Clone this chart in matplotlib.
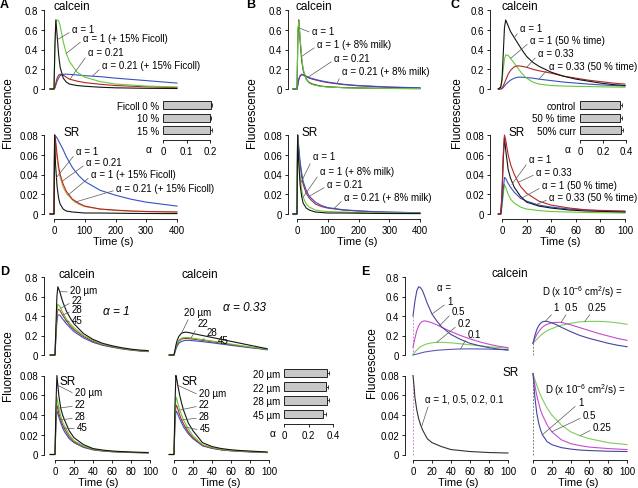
import matplotlib
matplotlib.use('Agg')
import matplotlib.pyplot as plt

plt.rcParams['font.family'] = ['Liberation Sans', 'DejaVu Sans']
plt.rcParams['mathtext.fontset'] = 'custom'
plt.rcParams['mathtext.rm'] = 'Liberation Sans'
plt.rcParams['mathtext.it'] = 'Liberation Sans:italic'

# ---- data ----
# A: Ficoll
tA = [-13, 0, 3, 6, 10, 15, 20, 30, 40, 50, 75, 100, 150, 200, 300, 400]
A_cal_black = [0, 0, 0.45, 0.7, 0.55, 0.35, 0.22, 0.11, 0.07, 0.05, 0.035, 0.028, 0.018, 0.012, 0.007, 0.005]
A_cal_green = [0, 0, 0.4, 0.68, 0.7, 0.69, 0.64, 0.48, 0.36, 0.28, 0.17, 0.12, 0.075, 0.05, 0.03, 0.02]
A_cal_red = [0, 0, 0.02, 0.06, 0.11, 0.14, 0.15, 0.14, 0.12, 0.1, 0.08, 0.065, 0.048, 0.035, 0.022, 0.015]
A_cal_blue = [0, 0, 0.01, 0.04, 0.08, 0.11, 0.135, 0.15, 0.15, 0.148, 0.142, 0.135, 0.125, 0.11, 0.085, 0.06]

tA_sr = [-13, 0, 2, 5, 10, 15, 20, 30, 40, 60, 80, 100, 150, 200, 250, 300, 400]
A_sr_black = [0, 0, 0.08, 0.05, 0.028, 0.016, 0.01, 0.005, 0.003, 0.002, 0.0015, 0.001, 0.001, 0.0008, 0.0006, 0.0005, 0.0004]
A_sr_red = [0, 0, 0.08, 0.075, 0.06, 0.048, 0.04, 0.03, 0.023, 0.015, 0.011, 0.008, 0.005, 0.004, 0.003, 0.0025, 0.002]
A_sr_green = [0, 0, 0.08, 0.072, 0.056, 0.045, 0.037, 0.027, 0.021, 0.014, 0.01, 0.0075, 0.005, 0.0035, 0.003, 0.0025, 0.002]
A_sr_blue = [0, 0, 0.08, 0.079, 0.077, 0.074, 0.071, 0.065, 0.058, 0.047, 0.039, 0.033, 0.024, 0.019, 0.015, 0.012, 0.008]

ficoll_labels = ['Ficoll 0 %', '10 %', '15 %']
ficoll_alpha = [0.203, 0.198, 0.201]
ficoll_err = [0.007, 0.006, 0.006]

# B: milk
B_cal_black = [0, 0, 0.55, 0.7, 0.5, 0.3, 0.19, 0.1, 0.065, 0.05, 0.03, 0.022, 0.014, 0.01, 0.006, 0.004]
B_cal_green = [0, 0, 0.6, 0.69, 0.52, 0.33, 0.2, 0.1, 0.06, 0.045, 0.028, 0.02, 0.013, 0.009, 0.005, 0.004]
B_cal_red = [0, 0, 0.05, 0.1, 0.13, 0.145, 0.14, 0.125, 0.11, 0.1, 0.08, 0.065, 0.045, 0.032, 0.018, 0.01]
B_cal_blue = [0, 0, 0.05, 0.1, 0.135, 0.15, 0.145, 0.13, 0.115, 0.105, 0.085, 0.07, 0.048, 0.035, 0.02, 0.012]

B_sr_black = [0, 0, 0.08, 0.055, 0.03, 0.018, 0.011, 0.006, 0.004, 0.002, 0.0015, 0.001, 0.001, 0.0008, 0.0006, 0.0005, 0.0004]
B_sr_green = [0, 0, 0.08, 0.06, 0.038, 0.025, 0.017, 0.01, 0.007, 0.004, 0.003, 0.0025, 0.002, 0.0015, 0.001, 0.001, 0.0008]
B_sr_red = [0, 0, 0.08, 0.068, 0.05, 0.038, 0.03, 0.021, 0.016, 0.01, 0.0075, 0.006, 0.004, 0.003, 0.0022, 0.0018, 0.0012]
B_sr_blue = [0, 0, 0.08, 0.07, 0.053, 0.042, 0.033, 0.024, 0.018, 0.012, 0.0085, 0.0065, 0.0043, 0.0032, 0.0024, 0.0019, 0.0013]

# C: time / current
tC = [-3, -1, 0, 1, 2, 3, 5, 7, 10, 13, 16, 20, 25, 30, 40, 50, 60, 70, 80, 90, 100]
C_cal_black = [0, 0.02, 0.1, 0.35, 0.62, 0.7, 0.64, 0.58, 0.52, 0.46, 0.4, 0.33, 0.27, 0.23, 0.17, 0.13, 0.1, 0.08, 0.06, 0.045, 0.035]
C_cal_green = [0, 0.02, 0.08, 0.2, 0.3, 0.345, 0.34, 0.31, 0.26, 0.21, 0.16, 0.11, 0.07, 0.05, 0.035, 0.03, 0.027, 0.025, 0.022, 0.02, 0.018]
C_cal_red = [0, 0, 0.01, 0.03, 0.06, 0.09, 0.15, 0.19, 0.225, 0.235, 0.23, 0.22, 0.2, 0.185, 0.16, 0.13, 0.11, 0.09, 0.075, 0.06, 0.05]
C_cal_blue = [0, 0, 0.005, 0.015, 0.03, 0.045, 0.07, 0.09, 0.11, 0.12, 0.12, 0.115, 0.11, 0.1, 0.085, 0.07, 0.06, 0.05, 0.042, 0.035, 0.03]

tC_sr = [-3, -1, 0, 1, 2, 3, 5, 7, 10, 15, 20, 30, 40, 55, 70, 85, 100]
C_sr_red = [0, 0, 0.02, 0.06, 0.08, 0.075, 0.06, 0.05, 0.04, 0.028, 0.021, 0.013, 0.009, 0.006, 0.004, 0.0035, 0.003]
C_sr_black = [0, 0, 0.02, 0.055, 0.078, 0.065, 0.045, 0.036, 0.027, 0.018, 0.012, 0.008, 0.006, 0.004, 0.003, 0.0025, 0.002]
C_sr_blue = [0, 0, 0.01, 0.025, 0.037, 0.036, 0.031, 0.027, 0.022, 0.016, 0.013, 0.009, 0.007, 0.005, 0.004, 0.003, 0.0025]
C_sr_green = [0, 0, 0.008, 0.02, 0.03, 0.027, 0.02, 0.015, 0.011, 0.007, 0.005, 0.0035, 0.0025, 0.002, 0.0015, 0.0012, 0.001]

cond_labels = ['control', '50 % time', '50% curr']
cond_alpha = [0.35, 0.35, 0.355]
cond_err = [0.015, 0.015, 0.02]

# D: pipette distance
tD = [-5, 0, 1, 2, 3, 5, 8, 12, 16, 20, 30, 40, 50, 60, 70, 80, 90, 98]
D1_cal_black = [0, 0, 0.3, 0.6, 0.7, 0.65, 0.55, 0.45, 0.38, 0.32, 0.22, 0.16, 0.12, 0.095, 0.075, 0.06, 0.05, 0.045]
D1_cal_green = [0, 0, 0.25, 0.45, 0.52, 0.5, 0.44, 0.37, 0.32, 0.28, 0.2, 0.15, 0.11, 0.09, 0.07, 0.055, 0.045, 0.04]
D1_cal_red = [0, 0, 0.22, 0.4, 0.47, 0.46, 0.41, 0.35, 0.3, 0.26, 0.19, 0.14, 0.105, 0.085, 0.067, 0.053, 0.043, 0.038]
D1_cal_blue = [0, 0, 0.18, 0.34, 0.41, 0.41, 0.37, 0.32, 0.28, 0.24, 0.175, 0.13, 0.1, 0.08, 0.063, 0.05, 0.04, 0.035]
D2_cal_black = [0, 0, 0.05, 0.1, 0.14, 0.19, 0.225, 0.235, 0.23, 0.22, 0.2, 0.18, 0.16, 0.14, 0.12, 0.1, 0.08, 0.065]
D2_cal_green = [0, 0, 0.04, 0.08, 0.11, 0.15, 0.175, 0.18, 0.178, 0.172, 0.158, 0.143, 0.128, 0.112, 0.097, 0.083, 0.07, 0.058]
D2_cal_red = [0, 0, 0.035, 0.07, 0.1, 0.14, 0.165, 0.17, 0.168, 0.163, 0.15, 0.136, 0.122, 0.107, 0.093, 0.08, 0.068, 0.056]
D2_cal_blue = [0, 0, 0.03, 0.06, 0.085, 0.12, 0.14, 0.15, 0.15, 0.147, 0.137, 0.125, 0.112, 0.099, 0.087, 0.075, 0.064, 0.053]

tD_sr = [-5, 0, 1, 2, 3, 4, 6, 8, 10, 15, 20, 30, 40, 50, 60, 70, 80, 98]
D1_sr_black = [0, 0, 0.05, 0.08, 0.07, 0.06, 0.047, 0.04, 0.035, 0.024, 0.017, 0.01, 0.006, 0.0045, 0.0035, 0.003, 0.0025, 0.002]
D1_sr_green = [0, 0, 0.04, 0.058, 0.053, 0.047, 0.039, 0.033, 0.029, 0.02, 0.014, 0.0085, 0.0055, 0.004, 0.0032, 0.0027, 0.0023, 0.0018]
D1_sr_red = [0, 0, 0.035, 0.05, 0.047, 0.042, 0.035, 0.03, 0.026, 0.018, 0.013, 0.008, 0.005, 0.0038, 0.003, 0.0025, 0.0021, 0.0017]
D1_sr_blue = [0, 0, 0.03, 0.044, 0.042, 0.038, 0.032, 0.027, 0.023, 0.016, 0.012, 0.0072, 0.0047, 0.0035, 0.0028, 0.0023, 0.002, 0.0016]
D2_sr_black = [0, 0, 0.05, 0.08, 0.076, 0.07, 0.06, 0.052, 0.045, 0.032, 0.024, 0.012, 0.008, 0.006, 0.0048, 0.004, 0.0035, 0.0025]
D2_sr_green = [0, 0, 0.04, 0.058, 0.056, 0.052, 0.045, 0.04, 0.035, 0.026, 0.019, 0.01, 0.007, 0.0052, 0.0042, 0.0035, 0.003, 0.0022]
D2_sr_red = [0, 0, 0.035, 0.05, 0.049, 0.046, 0.04, 0.035, 0.031, 0.023, 0.017, 0.0092, 0.0065, 0.0048, 0.0039, 0.0033, 0.0028, 0.002]
D2_sr_blue = [0, 0, 0.03, 0.044, 0.043, 0.041, 0.036, 0.032, 0.028, 0.021, 0.016, 0.0088, 0.0062, 0.0046, 0.0037, 0.0031, 0.0026, 0.002]

diam_labels = ['20 µm', '22 µm', '28 µm', '45 µm']
diam_alpha = [0.35, 0.345, 0.35, 0.32]
diam_err = [0.015, 0.013, 0.015, 0.025]

# E: model curves
tE = [0, 2, 4, 6, 8, 10, 12, 15, 20, 25, 30, 40, 50, 60, 70, 80, 90, 100]
E1_cal_a1 = [0.4, 0.55, 0.66, 0.7, 0.69, 0.66, 0.61, 0.53, 0.42, 0.35, 0.29, 0.21, 0.16, 0.12, 0.095, 0.075, 0.06, 0.05]
E1_cal_a05 = [0.08, 0.17, 0.25, 0.3, 0.33, 0.345, 0.35, 0.345, 0.33, 0.31, 0.285, 0.24, 0.2, 0.165, 0.135, 0.11, 0.09, 0.075]
E1_cal_a02 = [0.01, 0.03, 0.05, 0.07, 0.085, 0.095, 0.105, 0.115, 0.125, 0.13, 0.13, 0.125, 0.115, 0.105, 0.095, 0.085, 0.077, 0.07]
E1_cal_a01 = [0.0, 0.005, 0.01, 0.015, 0.02, 0.025, 0.03, 0.035, 0.042, 0.048, 0.052, 0.058, 0.062, 0.063, 0.062, 0.06, 0.057, 0.055]
E2_cal_d1 = [0.12, 0.2, 0.26, 0.3, 0.325, 0.34, 0.345, 0.345, 0.33, 0.31, 0.285, 0.24, 0.2, 0.17, 0.145, 0.12, 0.1, 0.085]
E2_cal_d05 = [0.12, 0.17, 0.21, 0.24, 0.265, 0.285, 0.3, 0.315, 0.33, 0.335, 0.335, 0.31, 0.28, 0.25, 0.22, 0.195, 0.17, 0.15]
E2_cal_d025 = [0.12, 0.14, 0.16, 0.18, 0.2, 0.215, 0.23, 0.25, 0.27, 0.29, 0.305, 0.325, 0.34, 0.345, 0.345, 0.34, 0.33, 0.315]

tE_sr = [0, 1, 2, 4, 6, 8, 10, 15, 20, 30, 40, 50, 60, 80, 100]
E1_sr = [0.08, 0.07, 0.058, 0.045, 0.036, 0.03, 0.025, 0.016, 0.012, 0.008, 0.005, 0.004, 0.003, 0.002, 0.0015]
E2_sr_d1 = [0.082, 0.07, 0.058, 0.042, 0.032, 0.025, 0.02, 0.013, 0.01, 0.007, 0.0055, 0.0045, 0.004, 0.0033, 0.003]
E2_sr_d05 = [0.082, 0.076, 0.07, 0.06, 0.052, 0.045, 0.04, 0.03, 0.023, 0.015, 0.011, 0.009, 0.0075, 0.006, 0.005]
E2_sr_d025 = [0.082, 0.079, 0.076, 0.07, 0.065, 0.06, 0.056, 0.047, 0.04, 0.03, 0.023, 0.019, 0.016, 0.012, 0.01]

cal_ticks = [0, 0.2, 0.4, 0.6, 0.8]
cal_labels = ['0', '0.2', '0.4', '0.6', '0.8']
sr_ticks = [0, 0.02, 0.04, 0.06, 0.08]
sr_labels = ['0', '0.02', '0.04', '0.06', '0.08']
t400 = [0, 100, 200, 300, 400]
t100 = [0, 20, 40, 60, 80, 100]

black = '#151515'
green = '#66c93a'
red = '#b3262a'
blue = '#3552c4'
e_blue = '#45459f'
e_mag = '#c64ccc'
e_green = '#7fcc5e'
e_purple = '#5a5ab8'
lw = 0.8

W, H = 638, 489
fig = plt.figure(figsize=(W / 100, H / 100), dpi=100)


def add_ax(left, top, right, bottom, xpx, xval, ypx, yval):
    # axes box in pixels, plus two pixel/value pairs per axis
    ax = fig.add_axes([left / W, 1 - bottom / H, (right - left) / W, (bottom - top) / H])
    sx = (xval[1] - xval[0]) / (xpx[1] - xpx[0])
    ax.set_xlim(xval[0] + (left - xpx[0]) * sx, xval[0] + (right - xpx[0]) * sx)
    sy = (yval[1] - yval[0]) / (ypx[1] - ypx[0])
    ax.set_ylim(yval[0] + (bottom - ypx[0]) * sy, yval[0] + (top - ypx[0]) * sy)
    ax.patch.set_alpha(0)
    return ax


def axis_style(ax, yticks=None, ylabels=None, xticks=None):
    for s in ['top', 'right']:
        ax.spines[s].set_visible(False)
    if yticks is None:
        ax.spines['left'].set_visible(False)
        ax.set_yticks([])
    else:
        ax.set_yticks(yticks, ylabels)
        ax.spines['left'].set_bounds(yticks[0], yticks[-1])
    if xticks is None:
        ax.spines['bottom'].set_visible(False)
        ax.set_xticks([])
    else:
        ax.set_xticks(xticks, [str(x) for x in xticks])
        ax.spines['bottom'].set_bounds(xticks[0], xticks[-1])
    ax.tick_params(length=2.5, width=0.6, labelsize=7, pad=1.5, direction='out')
    for s in ax.spines.values():
        s.set_linewidth(0.6)


def note(ax, s, tx, ty, xy, rel=(0, 0.3), size=7):
    ax.annotate(s, xy=xy, xycoords='data', xytext=(tx, H - ty), textcoords='figure pixels',
                fontsize=size, ha='left', va='center',
                arrowprops=dict(arrowstyle='-', color='0.35', lw=0.5, shrinkA=0, shrinkB=0, relpos=rel))


def ftext(x, y, s, **kw):
    fig.text(x / W, 1 - y / H, s, **kw)


def inset(ax, labels, vals, errs, xticks, xlabels):
    y = list(range(len(vals)))
    ax.barh(y, vals, height=0.64, color='#c8c8c8', edgecolor='#222222', linewidth=0.7,
            xerr=[[0] * len(errs), errs], error_kw=dict(ecolor='#222222', elinewidth=0.6, capsize=1.6, capthick=0.6))
    for s in ['top', 'right', 'left']:
        ax.spines[s].set_visible(False)
    ax.spines['bottom'].set_linewidth(0.6)
    ax.spines['bottom'].set_bounds(xticks[0], xticks[-1])
    ax.set_xticks(xticks, xlabels)
    ax.set_yticks(y, labels)
    ax.tick_params(axis='x', length=2.5, width=0.6, labelsize=7, pad=1.5)
    ax.tick_params(axis='y', length=0, labelsize=7, pad=3)


# ---- A ----
ax = add_ax(44, 6, 182, 92, (54, 177), (0, 400), (90, 11), (0, 0.8))
axis_style(ax, cal_ticks, cal_labels)
for v, c in [(A_cal_blue, blue), (A_cal_red, red), (A_cal_green, green), (A_cal_black, black)]:
    ax.plot(tA, v, color=c, lw=lw)
note(ax, 'α = 1', 72, 30, (11, 0.5))
note(ax, 'α = 1 (+ 15% Ficoll)', 83, 39, (40, 0.36))
note(ax, 'α = 0.21', 88, 53, (52, 0.1))
note(ax, 'α = 0.21 (+ 15% Ficoll)', 102, 66, (125, 0.13))

ax = add_ax(44, 130, 182, 220, (54, 177), (0, 400), (215, 136), (0, 0.08))
axis_style(ax, sr_ticks, sr_labels, t400)
for v, c in [(A_sr_blue, blue), (A_sr_green, '#c9b23a'), (A_sr_red, red), (A_sr_black, black)]:
    ax.plot(tA_sr, v, color=c, lw=lw)
ax.set_xlabel('Time (s)', fontsize=8, labelpad=1)
note(ax, 'α = 1', 76, 152, (8, 0.037))
note(ax, 'α = 0.21', 86, 163, (26, 0.033))
note(ax, 'α = 1 (+ 15% Ficoll)', 91, 175, (45, 0.019))
note(ax, 'α = 0.21 (+ 15% Ficoll)', 116, 189, (68, 0.012))

ax = add_ax(163, 100, 214, 141, (163, 210), (0, 0.2), (106, 131), (0, 2))
inset(ax, ficoll_labels, ficoll_alpha, ficoll_err, [0, 0.1, 0.2], ['0', '0.1', '0.2'])
ftext(149, 150, 'α', fontsize=7.5, ha='center', va='center')

# ---- B ----
ax = add_ax(288, 6, 426, 92, (297, 420), (0, 400), (90, 11), (0, 0.8))
axis_style(ax, cal_ticks, cal_labels)
for v, c in [(B_cal_red, red), (B_cal_blue, blue), (B_cal_black, black), (B_cal_green, green)]:
    ax.plot(tA, v, color=c, lw=lw)
note(ax, 'α = 1', 312, 32, (5, 0.62))
note(ax, 'α = 1 (+ 8% milk)', 317, 45, (15, 0.33))
note(ax, 'α = 0.21', 334, 59, (36, 0.12))
note(ax, 'α = 0.21 (+ 8% milk)', 342, 72, (130, 0.055))

ax = add_ax(288, 130, 426, 220, (297, 420), (0, 400), (215, 136), (0, 0.08))
axis_style(ax, sr_ticks, sr_labels, t400)
for v, c in [(B_sr_red, red), (B_sr_blue, blue), (B_sr_green, green), (B_sr_black, black)]:
    ax.plot(tA_sr, v, color=c, lw=lw)
ax.set_xlabel('Time (s)', fontsize=8, labelpad=1)
note(ax, 'α = 1', 313, 157, (10, 0.03))
note(ax, 'α = 1 (+ 8% milk)', 320, 172, (20, 0.017))
note(ax, 'α = 0.21', 327, 185, (40, 0.018))
note(ax, 'α = 0.21 (+ 8% milk)', 344, 198, (120, 0.0055))

# ---- C ----
ax = add_ax(490, 6, 630, 92, (502, 625), (0, 100), (90, 11), (0, 0.8))
axis_style(ax, cal_ticks, cal_labels)
for v, c in [(C_cal_blue, blue), (C_cal_green, green), (C_cal_red, red), (C_cal_black, black)]:
    ax.plot(tC, v, color=c, lw=lw)
note(ax, 'α = 1', 520, 29, (10, 0.52))
note(ax, 'α = 1 (50 % time)', 530, 41, (7, 0.31))
note(ax, 'α = 0.33', 538, 54, (20, 0.22))
note(ax, 'α = 0.33 (50 % time)', 549, 67, (30, 0.1))

ax = add_ax(490, 130, 630, 220, (502, 625), (0, 100), (215, 136), (0, 0.08))
axis_style(ax, sr_ticks, sr_labels, t100)
for v, c in [(C_sr_green, green), (C_sr_blue, blue), (C_sr_black, black), (C_sr_red, red)]:
    ax.plot(tC_sr, v, color=c, lw=lw)
ax.set_xlabel('Time (s)', fontsize=8, labelpad=1)
note(ax, 'α = 1', 529, 160, (8, 0.03))
note(ax, 'α = 0.33', 536, 173, (13, 0.032))
note(ax, 'α = 1 (50 % time)', 542, 186, (16, 0.016))
note(ax, 'α = 0.33 (50 % time)', 549, 198, (28, 0.0095))

ax = add_ax(580, 100, 630, 141, (580, 626), (0, 0.4), (106, 131), (0, 2))
inset(ax, cond_labels, cond_alpha, cond_err, [0, 0.2, 0.4], ['0', '0.2', '0.4'])
ftext(568, 150, 'α', fontsize=7.5, ha='center', va='center')

# ---- D ----
d_cols = [black, green, red, blue]
ax = add_ax(44, 270, 152, 358, (55, 150), (0, 100), (356, 278), (0, 0.8))
axis_style(ax, cal_ticks, cal_labels)
for v, c in zip([D1_cal_black, D1_cal_green, D1_cal_red, D1_cal_blue][::-1], d_cols[::-1]):
    ax.plot(tD, v, color=c, lw=lw)
note(ax, '20 µm', 70, 291, (5, 0.65))
note(ax, '22', 72, 301, (6, 0.48))
note(ax, '28', 72, 310, (8, 0.41))
note(ax, '45', 72, 321, (10, 0.35))
ftext(103, 312, 'α = 1', fontsize=8.5, style='italic', ha='left', va='center')

ax = add_ax(44, 372, 152, 461, (55, 150), (0, 100), (455.5, 376.5), (0, 0.08))
axis_style(ax, sr_ticks, sr_labels, t100)
for v, c in zip([D1_sr_black, D1_sr_green, D1_sr_red, D1_sr_blue][::-1], d_cols[::-1]):
    ax.plot(tD_sr, v, color=c, lw=lw)
ax.set_xlabel('Time (s)', fontsize=8, labelpad=1)
note(ax, '20 µm', 75, 393, (3, 0.07))
note(ax, '22', 75, 405, (4, 0.047))
note(ax, '28', 75, 417, (6, 0.035))
note(ax, '45', 77, 428, (8, 0.027))

ax = add_ax(168, 270, 272, 358, (174, 269), (0, 100), (356, 278), (0, 0.8))
axis_style(ax)
for v, c in zip([D2_cal_black, D2_cal_green, D2_cal_red, D2_cal_blue][::-1], d_cols[::-1]):
    ax.plot(tD, v, color=c, lw=lw)
note(ax, '20 µm', 184, 313, (8, 0.225), rel=(0.2, 0))
note(ax, '22', 198, 324, (18, 0.175), rel=(0, 0.2))
note(ax, '28', 207, 333, (30, 0.15), rel=(0, 0.2))
note(ax, '45', 218, 341, (45, 0.12), rel=(0, 0.3))
ftext(223, 308, 'α = 0.33', fontsize=8.5, style='italic', ha='left', va='center')

ax = add_ax(168, 372, 272, 461, (174, 269), (0, 100), (455.5, 376.5), (0, 0.08))
axis_style(ax, None, None, t100)
for v, c in zip([D2_sr_black, D2_sr_green, D2_sr_red, D2_sr_blue][::-1], d_cols[::-1]):
    ax.plot(tD_sr, v, color=c, lw=lw)
ax.set_xlabel('Time (s)', fontsize=8, labelpad=1)
note(ax, '20 µm', 199, 394, (4, 0.07))
note(ax, '22', 199, 405, (6, 0.045))
note(ax, '28', 199, 417, (8, 0.035))
note(ax, '45', 200, 429, (10, 0.028))

ax = add_ax(284, 366, 336, 425, (284, 333), (0, 0.4), (374, 415), (0, 3))
inset(ax, diam_labels, diam_alpha, diam_err, [0, 0.2, 0.4], ['0', '0.2', '0.4'])
ftext(273, 434, 'α', fontsize=7.5, ha='center', va='center')

# ---- E ----
ax = add_ax(405, 270, 512, 358, (413, 508), (0, 100), (356, 278), (0, 0.8))
axis_style(ax, cal_ticks, cal_labels)
ax.plot([0, 0], [0, E1_cal_a1[0]], color='#cf8fd6', lw=0.7, ls=(0, (2, 1.5)))
for v, c in [(E1_cal_a01, e_purple), (E1_cal_a02, e_green), (E1_cal_a05, e_mag), (E1_cal_a1, e_blue)]:
    ax.plot(tE, v, color=c, lw=lw)
ftext(437, 288, 'α =', fontsize=7, ha='left', va='center')
note(ax, '1', 447, 302, (20, 0.42))
note(ax, '0.5', 452, 312, (28, 0.3))
note(ax, '0.2', 458, 324, (25, 0.13))
note(ax, '0.1', 468, 335, (50, 0.062))

ax = add_ax(405, 372, 512, 461, (413, 508), (0, 100), (455.5, 376.5), (0, 0.08))
axis_style(ax, sr_ticks, sr_labels, t100)
ax.plot([0, 0], [0, E1_sr[0]], color='#cf8fd6', lw=0.7, ls=(0, (2, 1.5)))
ax.plot(tE_sr, E1_sr, color='#333333', lw=lw)
ax.set_xlabel('Time (s)', fontsize=8, labelpad=1)
note(ax, 'α = 1, 0.5, 0.2, 0.1', 425, 400, (9, 0.028), rel=(0.05, 0))

ax = add_ax(527, 270, 630, 358, (533, 627), (0, 100), (356, 278), (0, 0.8))
axis_style(ax)
ax.plot([0, 0], [0, E2_cal_d1[0]], color='0.5', lw=0.7, ls=(0, (2, 1.5)))
for v, c in [(E2_cal_d025, e_green), (E2_cal_d05, e_mag), (E2_cal_d1, e_blue)]:
    ax.plot(tE, v, color=c, lw=lw)
ftext(542, 292, 'D (x 10$^{-6}$ cm$^{2}$/s) =', fontsize=7, ha='left', va='center')
note(ax, '1', 553, 308, (13, 0.345), rel=(0.2, 0))
note(ax, '0.5', 565, 308, (30, 0.335), rel=(0.2, 0))
note(ax, '0.25', 588, 308, (55, 0.343), rel=(0.2, 0))

ax = add_ax(527, 372, 630, 461, (533, 627), (0, 100), (455.5, 376.5), (0, 0.08))
axis_style(ax, None, None, t100)
ax.plot([0, 0], [0, E2_sr_d1[0]], color='0.5', lw=0.7, ls=(0, (2, 1.5)))
for v, c in [(E2_sr_d025, e_green), (E2_sr_d05, e_mag), (E2_sr_d1, e_blue)]:
    ax.plot(tE_sr, v, color=c, lw=lw)
ax.set_xlabel('Time (s)', fontsize=8, labelpad=1)
ftext(545, 390, 'D (x 10$^{-6}$ cm$^{2}$/s) =', fontsize=7, ha='left', va='center')
note(ax, '1', 578, 403, (10, 0.02))
note(ax, '0.5', 583, 416, (20, 0.023))
note(ax, '0.25', 593, 428, (50, 0.019))

# ---- titles, letters, y labels ----
for x, y, s in [(72, 7, 'calcein'), (314, 7, 'calcein'), (520, 7, 'calcein'),
                (72, 133, 'SR'), (310, 133, 'SR'), (517, 133, 'SR'),
                (77, 275, 'calcein'), (200, 275, 'calcein'), (510, 274, 'calcein'),
                (68, 382, 'SR'), (190, 382, 'SR'), (511, 373, 'SR')]:
    ftext(x, y, s, fontsize=8.5, ha='center', va='center')

for x, y, s in [(4, 5, 'A'), (251, 5, 'B'), (455, 5, 'C'), (5, 272, 'D'), (365, 272, 'E')]:
    ftext(x, y, s, fontsize=9, fontweight='bold', ha='center', va='center')

for x, y in [(8, 113), (252, 113), (457, 113), (8, 366), (372, 363)]:
    ftext(x, y, 'Fluorescence', fontsize=8.5, rotation=90, ha='center', va='center')

fig.savefig('out.png', dpi=100)
